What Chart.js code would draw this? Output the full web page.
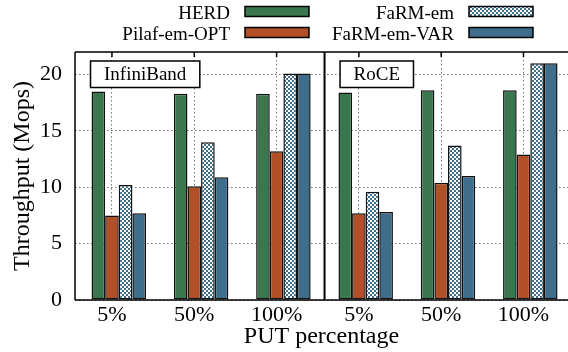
<!DOCTYPE html>
<html>
<head>
<meta charset="utf-8">
<script src="https://cdn.jsdelivr.net/npm/chart.js@4.4.1/dist/chart.umd.min.js"></script>
<style>
  html, body { margin: 0; padding: 0; background: #fff; overflow: hidden; }
  #wrap { width: 568px; height: 352px; }
</style>
</head>
<body>
<div id="wrap"><canvas id="tput" width="568" height="352"></canvas></div>
<script>
// data (Mops)
const xLabels = ['5%', '50%', '100%', '5%', '50%', '100%'];
const panelNames = ['InfiniBand', 'RoCE'];
const seriesNames = ['HERD', 'Pilaf-em-OPT', 'FaRM-em', 'FaRM-em-VAR'];
const herd = [18.5, 18.3, 18.3, 18.4, 18.6, 18.6];
const pilafOpt = [7.5, 10.1, 13.2, 7.7, 10.4, 12.9];
const farmEm = [10.2, 14.0, 20.1, 9.6, 13.7, 21.0];
const farmEmVar = [7.7, 10.9, 20.1, 7.8, 11.0, 21.0];

const SERIF = '"Liberation Serif", "Times New Roman", serif';
const catPct = 0.662;
const tickShift = -catPct / 8; // gnuplot puts the tic on the 2nd bar of a cluster

const canvas = document.getElementById('tput');
const ctx = canvas.getContext('2d');

function checker(color) {
    const c = document.createElement('canvas');
    c.width = 4; c.height = 4;
    const g = c.getContext('2d');
    g.fillStyle = '#fff';
    g.fillRect(0, 0, 4, 4);
    g.fillStyle = color;
    g.fillRect(0, 0, 2, 2);
    g.fillRect(2, 2, 2, 2);
    return ctx.createPattern(c, 'repeat');
}

const fills = ['#3a774e', '#b14f27', checker('#3f6e8d'), '#3f6e8d'];

const datasets = [herd, pilafOpt, farmEm, farmEmVar].map((vals, k) => ({
    label: seriesNames[k],
    data: vals.map((v, i) => ({ x: i, y: v })),
    backgroundColor: fills[k],
    borderColor: '#111',
    borderWidth: 1.5,
    borderSkipped: false,
    categoryPercentage: catPct,
    barPercentage: 1.0
}));

/* frame, separator, panel names, top tics */
const framePlugin = {
    id: 'frame',
    afterDatasetsDraw(chart) {
        const { ctx, chartArea: a, scales: { x } } = chart;
        ctx.save();
        ctx.strokeStyle = '#000';
        ctx.lineWidth = 1.5;
        ctx.beginPath();
        ctx.moveTo(a.left, a.top); ctx.lineTo(a.right, a.top);
        ctx.moveTo(a.left, a.top); ctx.lineTo(a.left, a.bottom);
        ctx.moveTo(a.left, a.bottom); ctx.lineTo(a.right, a.bottom);
        x.ticks.forEach(t => {
            const px = x.getPixelForValue(t.value);
            ctx.moveTo(px, a.top); ctx.lineTo(px, a.top + 5);
        });
        ctx.stroke();

        // panel separator between the two networks
        const sep = x.getPixelForValue((xLabels.length - 1) / 2);
        ctx.lineWidth = 2;
        ctx.beginPath();
        ctx.moveTo(sep, a.top); ctx.lineTo(sep, a.bottom);
        ctx.stroke();

        // panel name boxes
        ctx.font = '19px ' + SERIF;
        ctx.textAlign = 'center';
        ctx.textBaseline = 'middle';
        [a.left, sep].forEach((left, p) => {
            const w = ctx.measureText(panelNames[p]).width + 27;
            const bx = left + 15.5, by = a.top + 9, bh = 26.5;
            ctx.fillStyle = '#fff';
            ctx.fillRect(bx, by, w, bh);
            ctx.lineWidth = 1.5;
            ctx.strokeRect(bx, by, w, bh);
            ctx.fillStyle = '#000';
            ctx.fillText(panelNames[p], bx + w / 2, by + bh / 2 + 1);
        });
        ctx.restore();
    }
};

/* two-column legend, text right-aligned with the key to its right */
const keyPlugin = {
    id: 'key',
    afterDraw(chart) {
        const { ctx } = chart;
        const colRight = [230, 454];
        const rowBase = [18.5, 39.5];
        ctx.save();
        ctx.font = '19px ' + SERIF;
        ctx.textAlign = 'right';
        ctx.textBaseline = 'alphabetic';
        chart.data.datasets.forEach((ds, k) => {
            const col = Math.floor(k / 2), row = k % 2;
            ctx.fillStyle = '#000';
            ctx.fillText(ds.label, colRight[col], rowBase[row]);
            const bx = colRight[col] + 15, by = rowBase[row] - 12;
            ctx.fillStyle = ds.backgroundColor;
            ctx.fillRect(bx, by, 64, 10);
            ctx.strokeStyle = '#000';
            ctx.lineWidth = 1.5;
            ctx.strokeRect(bx, by, 64, 10);
        });
        ctx.restore();
    }
};

Chart.defaults.font.family = SERIF;
Chart.defaults.color = '#000';

new Chart(ctx, {
    type: 'bar',
    data: { datasets },
    plugins: [framePlugin, keyPlugin],
    options: {
        responsive: false,
        animation: false,
        layout: { padding: { top: 52, right: 0, left: 0, bottom: 0 } },
        plugins: { legend: { display: false }, tooltip: { enabled: false } },
        scales: {
            x: {
                type: 'linear',
                min: -0.532,
                max: 5.458,
                offset: false,
                afterBuildTicks: s => { s.ticks = xLabels.map((_, i) => ({ value: i + tickShift })); },
                afterFit: s => { s.height = 52; },
                ticks: {
                    callback: (v, i) => xLabels[i],
                    font: { size: 22 },
                    padding: 2,
                    maxRotation: 0,
                    autoSkip: false
                },
                grid: { color: '#777', lineWidth: 1, drawTicks: false, offset: false },
                border: { display: false, dash: [1.5, 2.5] },
                title: { display: true, text: 'PUT percentage', font: { size: 24 }, padding: { top: 0, bottom: 1 } }
            },
            y: {
                min: 0,
                max: 22,
                afterFit: s => { s.width = 75; },
                ticks: { stepSize: 5, includeBounds: false, font: { size: 22 }, padding: 13 },
                grid: { color: '#777', lineWidth: 1, drawTicks: false },
                border: { display: false, dash: [1.5, 2.5] },
                title: { display: true, text: 'Throughput (Mops)', font: { size: 24 }, padding: { top: 8, bottom: 0 } }
            }
        }
    }
});
</script>
</body>
</html>
